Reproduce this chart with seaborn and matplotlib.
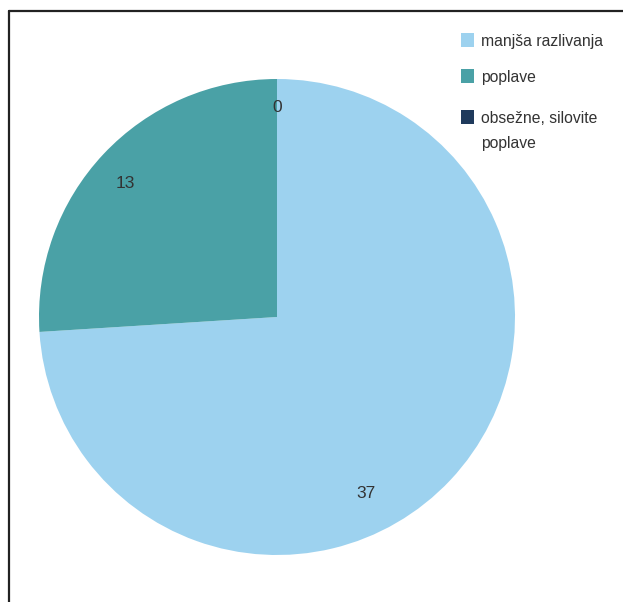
import matplotlib
matplotlib.use("Agg")
import matplotlib.pyplot as plt
from matplotlib.lines import Line2D
from matplotlib.patches import Rectangle
import seaborn as sns

categories = ["manjša razlivanja", "poplave", "obsežne, silovite\npoplave"]
values = [37, 13, 0]
colors = ["#9dd2ef", "#4aa1a6", "#1f3a5c"]

sns.set_theme(style="white")
plt.rcParams["font.family"] = ["Liberation Sans Narrow", "Liberation Sans", "DejaVu Sans"]

W, H = 623, 602
fig = plt.figure(figsize=(W / 100, H / 100), dpi=100)
fig.patch.set_facecolor("white")

# pie axes
cx, cy, r = 277, 317, 238
ax = fig.add_axes([(cx - r) / W, (H - cy - r) / H, 2 * r / W, 2 * r / H])
wedges, _ = ax.pie(values, colors=colors, startangle=90, counterclock=False,
                   radius=1.0, wedgeprops=dict(linewidth=0))
ax.set_xlim(-1, 1)
ax.set_ylim(-1, 1)
ax.set_aspect("equal")
ax.axis("off")

# value labels
label_pos = [(366, 494), (125, 183), (277, 108)]
for v, (px, py) in zip(values, label_pos):
    ax.text((px - cx) / r, (cy - py) / r, str(v), ha="center", va="center",
            fontsize=12.5, color="#333333")

# legend
leg_y = [40, 76, 117]
line_step = 25
for lab, col, y in zip(categories, colors, leg_y):
    fig.add_artist(Rectangle((461 / W, (H - y - 7) / H), 13 / W, 14 / H,
                             transform=fig.transFigure, facecolor=col, edgecolor="none"))
    for i, part in enumerate(lab.split("\n")):
        fig.text(481 / W, (H - y - i * line_step) / H, part, ha="left", va="center_baseline",
                 fontsize=11.3, color="#333333")

# frame lines
fig.add_artist(Line2D([8.5 / W, 8.5 / W], [0, (H - 10.5) / H], transform=fig.transFigure,
                      color="#222222", linewidth=1.6))
fig.add_artist(Line2D([8.5 / W, 1], [(H - 10.5) / H, (H - 10.5) / H], transform=fig.transFigure,
                      color="#222222", linewidth=1.6))

fig.savefig("out.png", dpi=100, facecolor="white")
